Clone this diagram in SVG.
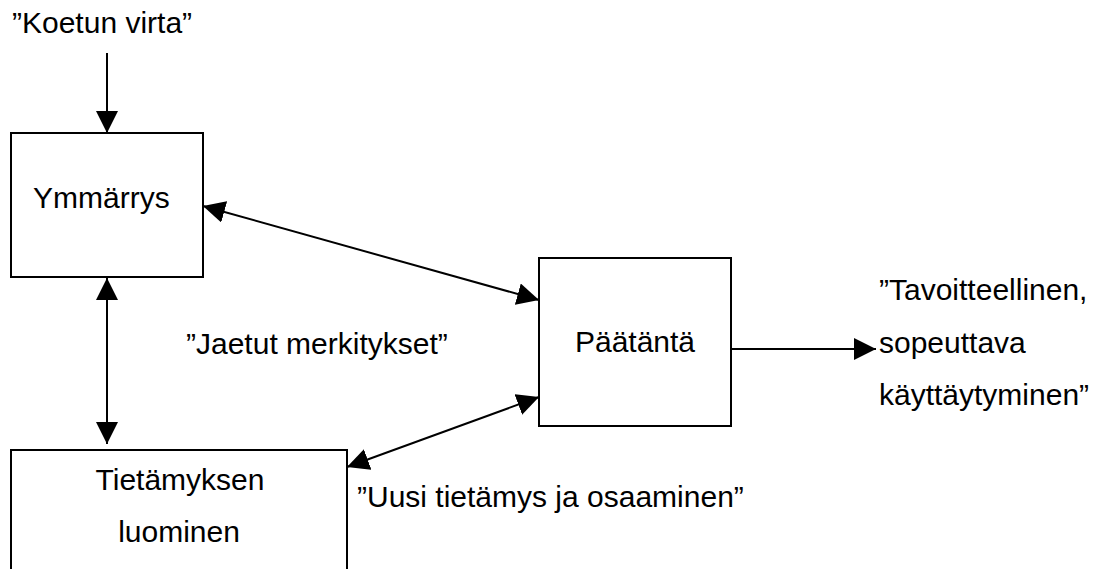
<svg xmlns="http://www.w3.org/2000/svg" width="1098" height="569" viewBox="0 0 1098 569">
<style>
text{font-family:"Liberation Sans",Arial,sans-serif;font-size:30px;fill:#000}
.box{fill:#fff;stroke:#000;stroke-width:2}
.c{stroke:#000;stroke-width:2;fill:none}
</style>
<defs>
<marker id="ah" markerUnits="userSpaceOnUse" markerWidth="22" markerHeight="22" refX="20" refY="10" orient="auto-start-reverse" viewBox="0 0 20 20">
<path d="M0,0 L20,10 L0,20 z" fill="#000"/>
</marker>
</defs>
<rect width="1098" height="569" fill="#fff"/>
<g id="connectors">
<line class="c" x1="107" y1="53" x2="107" y2="133" marker-end="url(#ah)"/>
<line class="c" x1="107" y1="278" x2="107" y2="444" marker-start="url(#ah)" marker-end="url(#ah)"/>
<line class="c" x1="203" y1="206" x2="539" y2="300" marker-start="url(#ah)" marker-end="url(#ah)"/>
<line class="c" x1="539" y1="397" x2="347" y2="467" marker-start="url(#ah)" marker-end="url(#ah)"/>
<line class="c" x1="732" y1="349" x2="876" y2="349" marker-end="url(#ah)"/>
</g>
<g id="input"><text x="12" y="33">”Koetun virta”</text></g>
<g id="ymmarrys">
<rect class="box" x="11" y="133" width="192" height="144"/>
<text x="33" y="208">Ymmärrys</text>
</g>
<g id="paatanta">
<rect class="box" x="539" y="258" width="192" height="168"/>
<text x="635" y="352" text-anchor="middle">Päätäntä</text>
</g>
<g id="tietamyksen">
<path class="box" d="M11,575 V450 H347 V575"/>
<text x="180" y="490" text-anchor="middle">Tietämyksen</text>
<text x="179" y="542" text-anchor="middle">luominen</text>
</g>
<g id="labels">
<text x="186" y="354">”Jaetut merkitykset”</text>
<text x="357" y="507">”Uusi tietämys ja osaaminen”</text>
</g>
<g id="output">
<text x="879" y="300">”Tavoitteellinen,</text>
<text x="879" y="353">sopeuttava</text>
<text x="879" y="405">käyttäytyminen”</text>
</g>
</svg>
